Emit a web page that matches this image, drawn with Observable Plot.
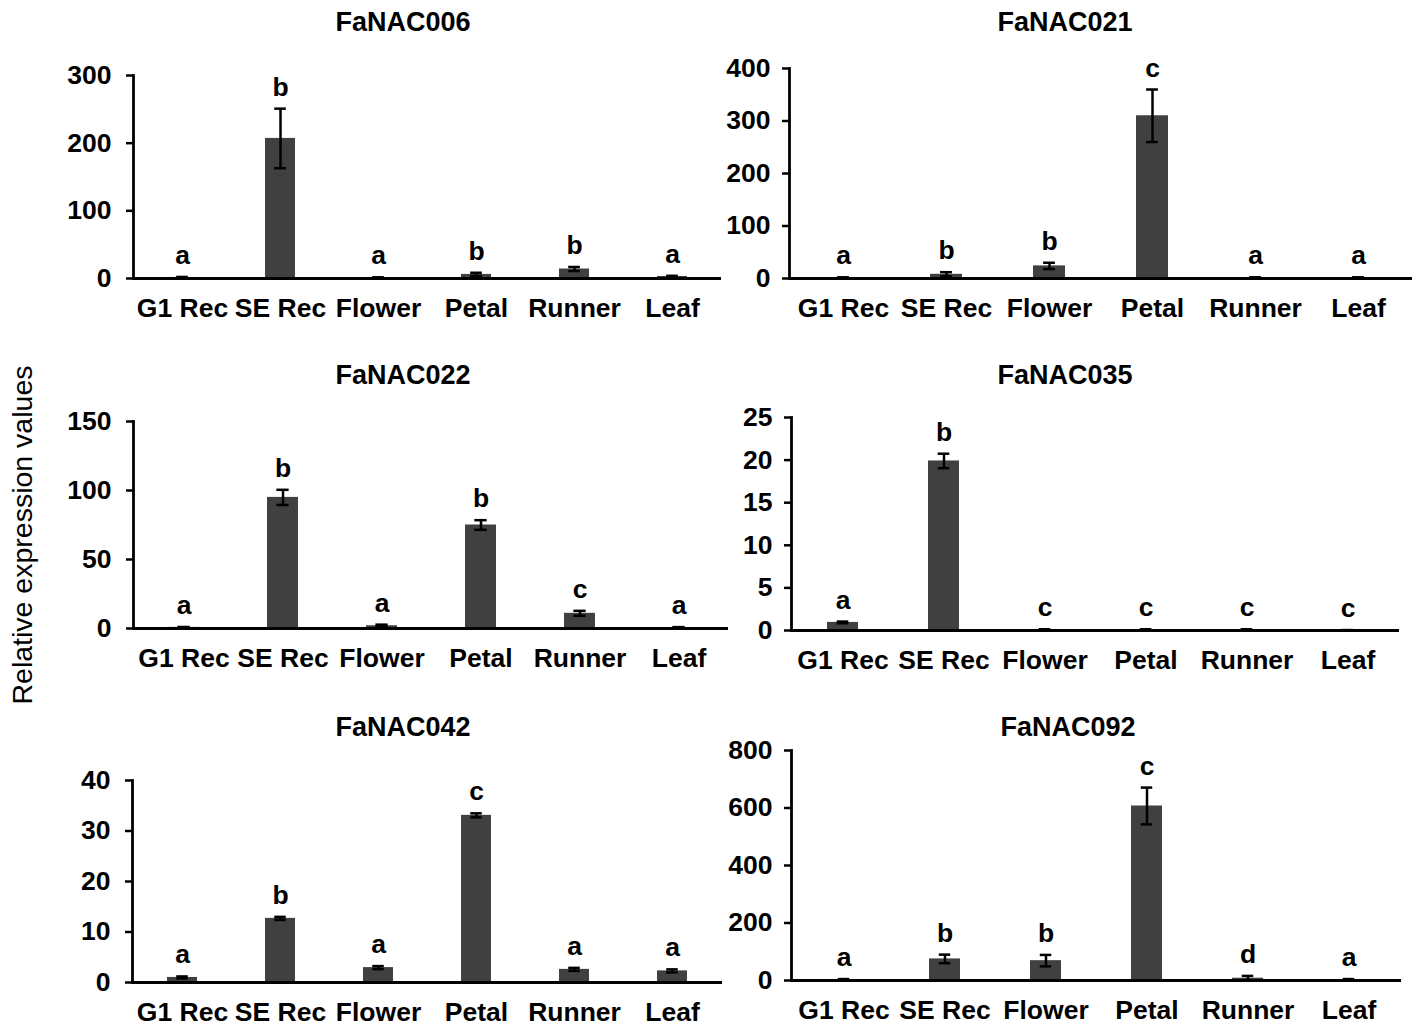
<!DOCTYPE html>
<html><head><meta charset="utf-8">
<script src="https://cdn.jsdelivr.net/npm/d3@7"></script>
<script src="https://cdn.jsdelivr.net/npm/@observablehq/plot@0.6"></script>
<style>
body{margin:0;background:#fff;}
#fig{position:relative;width:1416px;height:1027px;overflow:hidden;background:#fff;font-family:'Liberation Sans',Arial,sans-serif;color:#000;}
.panel{position:absolute;}
.ttl{position:absolute;font-weight:bold;font-size:27px;transform:translate(-50%,-50%);white-space:nowrap;}
#ylab{position:absolute;left:22px;top:535px;transform:translate(-50%,-50%) rotate(-90deg);font-size:28.5px;white-space:nowrap;}
</style></head><body><div id="fig"></div>
<script>
const categories = ["G1 Rec", "SE Rec", "Flower", "Petal", "Runner", "Leaf"];

const values006 = [1.5, 207, 1.2, 6, 14, 3];
const errors006 = [0.8, 44, 0.6, 2.5, 3, 1];
const letters006 = ["a", "b", "a", "b", "b", "a"];
const ticks006 = [0, 100, 200, 300];

const values021 = [1.5, 8, 24, 310, 1.5, 1.5];
const errors021 = [0.8, 4, 6, 50, 0.8, 0.8];
const letters021 = ["a", "b", "b", "c", "a", "a"];
const ticks021 = [0, 100, 200, 300, 400];

const values022 = [0.8, 95, 2, 75, 11, 0.7];
const errors022 = [0.3, 5.5, 0.8, 3.5, 1.8, 0.3];
const letters022 = ["a", "b", "a", "b", "c", "a"];
const ticks022 = [0, 50, 100, 150];

const values035 = [0.95, 19.9, 0.1, 0.1, 0.1, 0.03];
const errors035 = [0.1, 0.85, 0.05, 0.05, 0.05, 0.02];
const letters035 = ["a", "b", "c", "c", "c", "c"];
const ticks035 = [0, 5, 10, 15, 20, 25];

const values042 = [1.0, 12.7, 2.95, 33.1, 2.6, 2.3];
const errors042 = [0.2, 0.3, 0.3, 0.4, 0.3, 0.3];
const letters042 = ["a", "b", "a", "c", "a", "a"];
const ticks042 = [0, 10, 20, 30, 40];

const values092 = [3, 75, 69, 607, 8, 3];
const errors092 = [2, 15, 20, 64, 8, 2];
const letters092 = ["a", "b", "b", "c", "d", "a"];
const ticks092 = [0, 200, 400, 600, 800];

const panels = [
  {gene: "FaNAC006", values: values006, errors: errors006, letters: letters006, ticks: ticks006},
  {gene: "FaNAC021", values: values021, errors: errors021, letters: letters021, ticks: ticks021},
  {gene: "FaNAC022", values: values022, errors: errors022, letters: letters022, ticks: ticks022},
  {gene: "FaNAC035", values: values035, errors: errors035, letters: letters035, ticks: ticks035},
  {gene: "FaNAC042", values: values042, errors: errors042, letters: letters042, ticks: ticks042},
  {gene: "FaNAC092", values: values092, errors: errors092, letters: letters092, ticks: ticks092}
];

// layout (pixels): svg box, margins, tick padding, title centre
const layout = [
  {left: 0,   top: 40,  width: 740, height: 300, mt: 35, mr: 19, mb: 62, ml: 133, tp: 15, tx: 403,  ty: 22},
  {left: 700, top: 40,  width: 716, height: 300, mt: 28, mr: 4,  mb: 62, ml: 89,  tp: 12, tx: 1065, ty: 22},
  {left: 0,   top: 395, width: 740, height: 300, mt: 26, mr: 12, mb: 67, ml: 133, tp: 15, tx: 403,  ty: 375},
  {left: 700, top: 395, width: 716, height: 300, mt: 22, mr: 17, mb: 65, ml: 91,  tp: 12, tx: 1065, ty: 375},
  {left: 0,   top: 750, width: 740, height: 277, mt: 30, mr: 18, mb: 45, ml: 132, tp: 15, tx: 403,  ty: 727},
  {left: 700, top: 730, width: 716, height: 297, mt: 20, mr: 15, mb: 47, ml: 91,  tp: 12, tx: 1068, ty: 727}
];

const fig = document.getElementById("fig");
const barColor = "#404040";
const padInner = 0.69;

panels.forEach((p, i) => {
  const L = layout[i];
  const rows = categories.map((c, k) => ({cat: c, v: p.values[k], e: p.errors[k], lab: p.letters[k]}));
  const ymax = p.ticks[p.ticks.length - 1];
  const step = (L.width - L.ml - L.mr) / categories.length;
  const bw = step * (1 - padInner);
  const capInset = Math.max(0, (bw - 12) / 2);
  const chart = Plot.plot({
    width: L.width,
    height: L.height,
    marginTop: L.mt,
    marginRight: L.mr,
    marginBottom: L.mb,
    marginLeft: L.ml,
    style: {background: "transparent", overflow: "visible", fontFamily: "'Liberation Sans', Arial, sans-serif", fontSize: "26px", fontWeight: "bold", color: "#000"},
    x: {domain: categories, paddingInner: padInner, paddingOuter: padInner / 2},
    y: {domain: [0, ymax]},
    marks: [
      Plot.barY(rows, {x: "cat", y: "v", fill: barColor}),
      Plot.ruleX(rows, {x: "cat", y1: d => Math.max(0, d.v - d.e), y2: d => d.v + d.e, stroke: "#000", strokeWidth: 2.5}),
      Plot.tickY(rows, {x: "cat", y: d => d.v + d.e, stroke: "#000", strokeWidth: 2.5, inset: capInset}),
      Plot.tickY(rows, {x: "cat", y: d => Math.max(0, d.v - d.e), stroke: "#000", strokeWidth: 2.5, inset: capInset}),
      Plot.text(rows, {x: "cat", y: d => d.v + d.e, text: "lab", lineAnchor: "bottom", dy: -13, fontSize: 26.5, fontWeight: "bold", fill: "#000"}),
      Plot.ruleY([0], {stroke: "#000", strokeWidth: 2.8}),
      Plot.frame({anchor: "left", stroke: "#000", strokeWidth: 2.8}),
      Plot.axisY({ticks: p.ticks, tickFormat: d => String(d), tickSize: 7, tickPadding: L.tp, strokeWidth: 2.5, fontSize: 26.5, fontWeight: "bold", label: null}),
      Plot.axisX({tickSize: 0, tickPadding: 20, fontSize: 26.5, fontWeight: "bold", label: null})
    ]
  });
  chart.classList.add("panel");
  chart.style.left = L.left + "px";
  chart.style.top = L.top + "px";
  fig.appendChild(chart);

  const t = document.createElement("div");
  t.className = "ttl";
  t.style.left = L.tx + "px";
  t.style.top = L.ty + "px";
  t.textContent = p.gene;
  fig.appendChild(t);
});

const yl = document.createElement("div");
yl.id = "ylab";
yl.textContent = "Relative expression values";
fig.appendChild(yl);
</script></body></html>
